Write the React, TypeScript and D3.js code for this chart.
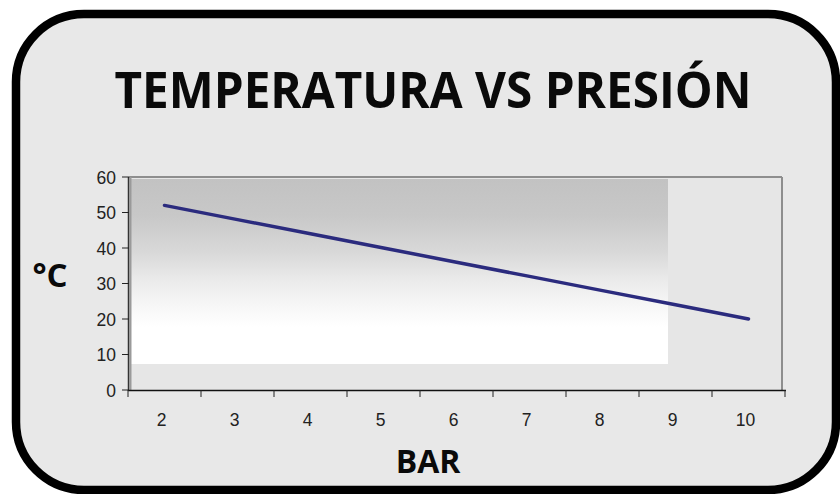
import React from "react";
import * as d3 from "d3";

const categories = ["2", "3", "4", "5", "6", "7", "8", "9", "10"];
const temperatures = [52, 48, 44, 40, 36, 32, 28, 24, 20];
const yTicks = [0, 10, 20, 30, 40, 50, 60];
const title = "TEMPERATURA VS PRESIÓN";
const xTitle = "BAR";
const yTitle = "°C";

export default function App() {
  const W = 840, H = 494;
  const x = d3.scaleBand<string>().domain(categories).range([128, 785]).paddingInner(0).paddingOuter(0);
  const y = d3.scaleLinear().domain([0, 60]).range([390, 177]);
  const line = d3
    .line<number>()
    .x((_, i) => (x(categories[i]) as number) + x.bandwidth() / 2)
    .y((d) => y(d));
  const boundaries = [...categories.map((c) => x(c) as number), x.range()[1]];
  const num = "Liberation Sans, Arial, sans-serif";
  const bold = "'Open Sans', 'Noto Sans', sans-serif";
  return (
    <svg width={W} height={H} style={{ position: "absolute", left: 0, top: 0, background: "#fff" }}>
      <defs>
        <linearGradient id="pg" x1="0" y1="0" x2="0" y2="1">
          <stop offset="0" stopColor="#c2c2c2" />
          <stop offset="0.2" stopColor="#c8c8c8" />
          <stop offset="0.4" stopColor="#d9d9d9" />
          <stop offset="0.55" stopColor="#ebebeb" />
          <stop offset="0.7" stopColor="#f8f8f8" />
          <stop offset="0.8" stopColor="#ffffff" />
          <stop offset="1" stopColor="#ffffff" />
        </linearGradient>
      </defs>
      <rect x={16} y={14} width={820} height={476} rx={68} ry={68} fill="#e8e8e8" stroke="#000" strokeWidth={8.5} />
      <text x={433} y={108} textAnchor="middle" fontFamily={bold} fontWeight={700} fontSize={50} fill="#0a0a0a"
        textLength={637} lengthAdjust="spacingAndGlyphs">
        {title}
      </text>
      {/* plot area */}
      <rect x={129} y={177} width={653} height={213} fill="#e6e6e6" />
      <rect x={131} y={179} width={537} height={185} fill="url(#pg)" />
      <line x1={129} y1={177} x2={782} y2={177} stroke="#8e8e8e" strokeWidth={2} />
      <line x1={782} y1={177} x2={782} y2={390} stroke="#8e8e8e" strokeWidth={2} />
      <line x1={130.5} y1={177} x2={130.5} y2={390} stroke="#9a9a9a" strokeWidth={2} />
      <line x1={128.5} y1={177} x2={128.5} y2={391} stroke="#333" strokeWidth={1.5} />
      <line x1={128} y1={390.5} x2={786} y2={390.5} stroke="#111" strokeWidth={1.5} />
      {yTicks.map((t) => (
        <g key={t}>
          <line x1={122} x2={129} y1={y(t)} y2={y(t)} stroke="#222" strokeWidth={1} />
          <text x={116} y={y(t) + 6.5} textAnchor="end" fontFamily={num} fontSize={17.5} fill="#222">
            {t}
          </text>
        </g>
      ))}
      {boundaries.map((b, i) => (
        <line key={i} x1={b} x2={b} y1={390} y2={397} stroke="#222" strokeWidth={1} />
      ))}
      {categories.map((c) => (
        <text key={c} x={(x(c) as number) + x.bandwidth() / 2 - 3} y={426} textAnchor="middle" fontFamily={num} fontSize={17.5} fill="#222">
          {c}
        </text>
      ))}
      <path d={line(temperatures) as string} fill="none" stroke="#2b2b7e" strokeWidth={3.5} strokeLinecap="round" />
      <text x={50} y={287} textAnchor="middle" fontFamily={bold} fontWeight={700} fontSize={33} fill="#0a0a0a">
        {yTitle}
      </text>
      <text x={428} y={473} textAnchor="middle" fontFamily={bold} fontWeight={700} fontSize={32} fill="#0a0a0a">
        {xTitle}
      </text>
    </svg>
  );
}
